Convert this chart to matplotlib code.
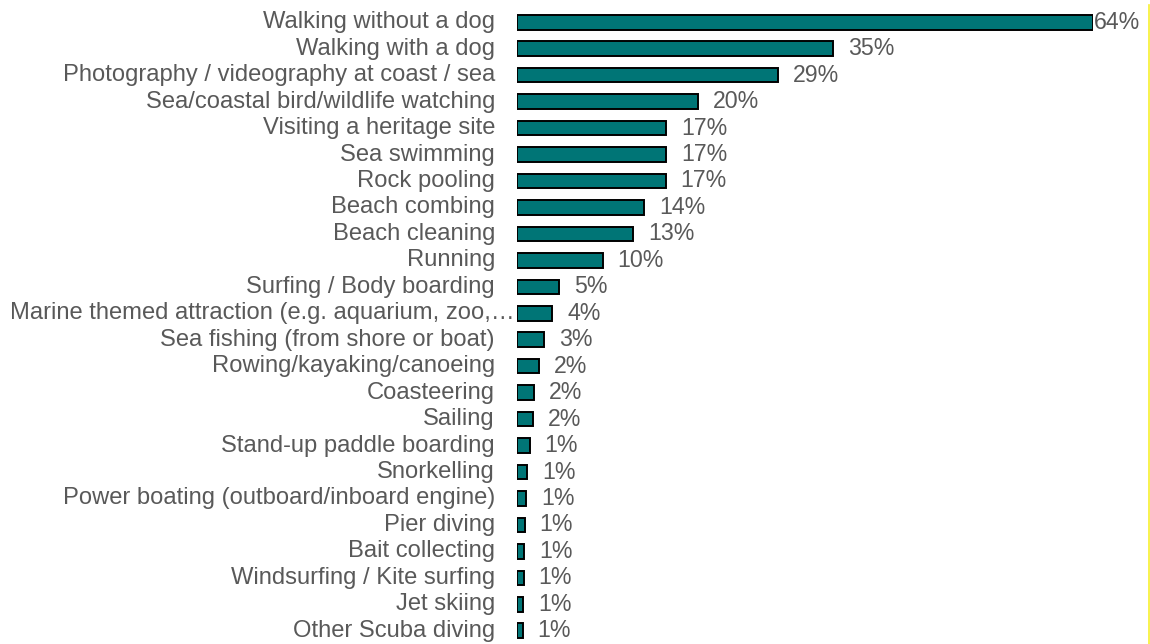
import matplotlib
matplotlib.use("Agg")
import matplotlib.pyplot as plt
import matplotlib.transforms as mtransforms
from matplotlib.lines import Line2D

# 数据
activities = [
    "Walking without a dog",
    "Walking with a dog",
    "Photography / videography at coast / sea",
    "Sea/coastal bird/wildlife watching",
    "Visiting a heritage site",
    "Sea swimming",
    "Rock pooling",
    "Beach combing",
    "Beach cleaning",
    "Running",
    "Surfing / Body boarding",
    "Marine themed attraction (e.g. aquarium, zoo,\u2026",
    "Sea fishing (from shore or boat)",
    "Rowing/kayaking/canoeing",
    "Coasteering",
    "Sailing",
    "Stand-up paddle boarding",
    "Snorkelling",
    "Power boating (outboard/inboard engine)",
    "Pier diving",
    "Bait collecting",
    "Windsurfing / Kite surfing",
    "Jet skiing",
    "Other Scuba diving",
]
shares = [64.0, 35.1, 29.0, 20.1, 16.6, 16.6, 16.5, 14.1, 12.9, 9.5, 4.7, 3.9,
          3.0, 2.4, 1.9, 1.8, 1.4, 1.1, 1.0, 0.85, 0.8, 0.75, 0.7, 0.63]
share_labels = ["64%", "35%", "29%", "20%", "17%", "17%", "17%", "14%", "13%",
                "10%", "5%", "4%", "3%", "2%", "2%", "2%", "1%", "1%", "1%",
                "1%", "1%", "1%", "1%", "1%"]

plt.rcParams['font.family'] = ['Liberation Sans', 'DejaVu Sans']
text_color = '#595959'
bar_color = '#007576'

fig = plt.figure(figsize=(11.5, 6.44), dpi=100)
ax = fig.add_axes([517 / 1150, 0.0, 576 / 1150, 635 / 644])

ypos = list(range(len(activities)))
ax.barh(ypos, shares, height=0.55, color=bar_color, edgecolor='black',
        linewidth=1.4, zorder=2)

ax.set_xlim(0, 64)
ax.set_ylim(len(activities) - 0.5, -0.5)
ax.set_xticks([])
ax.set_yticks([])
for s in ax.spines.values():
    s.set_visible(False)

# 类别标签
trans = mtransforms.blended_transform_factory(ax.transAxes, ax.transData)
for i, name in enumerate(activities):
    gap = -2 if name.startswith("Marine") else -22
    t = mtransforms.offset_copy(trans, fig=fig, x=gap, y=0, units='dots')
    ax.text(0, i, name, transform=t, ha='right', va='center',
            fontsize=17.1, color=text_color)

# 数值标签
for i, (v, lab) in enumerate(zip(shares, share_labels)):
    off = 1 if v >= 60 else 15
    ax.annotate(lab, xy=(v, i), xytext=(off * 72 / 100, 0),
                textcoords='offset points', ha='left', va='center',
                fontsize=16.7, color=text_color, annotation_clip=False)

# 右侧边线
fig.add_artist(Line2D([1149 / 1150, 1149 / 1150], [0, 1 - 5 / 644],
                      transform=fig.transFigure, color='#f7f030', lw=1.2))

fig.savefig("out.png", dpi=100)
